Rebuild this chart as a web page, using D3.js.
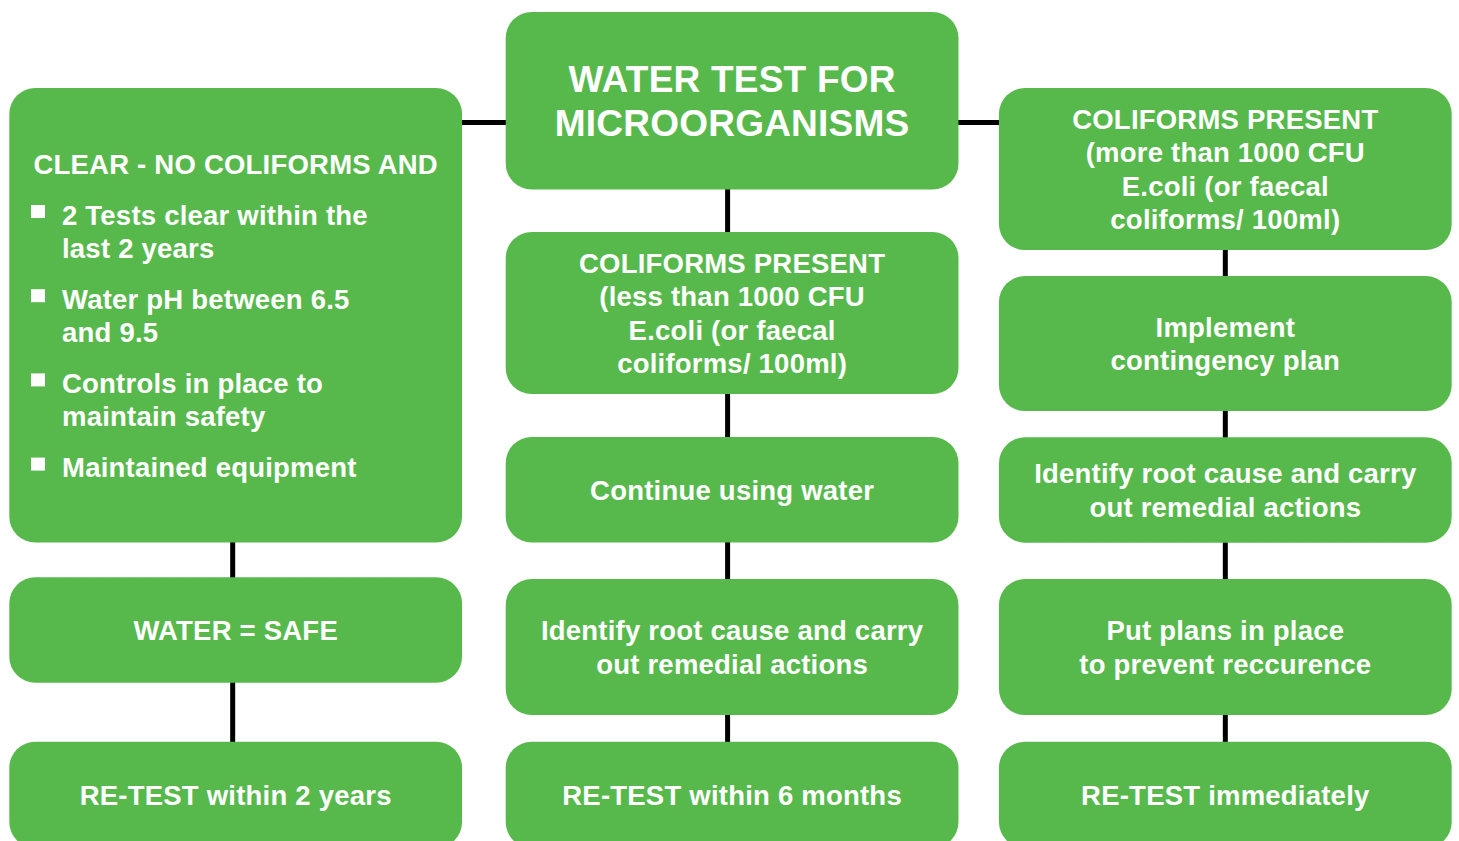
<!DOCTYPE html>
<html>
<head>
<meta charset="utf-8">
<script src="https://cdn.jsdelivr.net/npm/d3@7"></script>
<style>
  body { margin: 0; background: #fff; }
  svg { display: block; }
  text { font-family: "Liberation Sans", Arial, sans-serif; font-weight: bold; fill: #fff; letter-spacing: 0.22px; }
</style>
</head>
<body>
<svg width="1459" height="841"></svg>
<script>
const columns = ["clear", "under1000", "over1000"];
const headline = ["WATER TEST FOR", "MICROORGANISMS"];
const clearHeading = "CLEAR - NO COLIFORMS AND";
const clearBullets = [
    ["2 Tests clear within the", "last 2 years"],
    ["Water pH between 6.5", "and 9.5"],
    ["Controls in place to", "maintain safety"],
    ["Maintained equipment"]
];
const leftSteps = [
    ["WATER = SAFE"],
    ["RE-TEST within 2 years"]
];
const centerSteps = [
    ["COLIFORMS PRESENT", "(less than 1000 CFU", "E.coli (or faecal", "coliforms/ 100ml)"],
    ["Continue using water"],
    ["Identify root cause and carry", "out remedial actions"],
    ["RE-TEST within 6 months"]
];
const rightSteps = [
    ["COLIFORMS PRESENT", "(more than 1000 CFU", "E.coli (or faecal", "coliforms/ 100ml)"],
    ["Implement", "contingency plan"],
    ["Identify root cause and carry", "out remedial actions"],
    ["Put plans in place", "to prevent reccurence"],
    ["RE-TEST immediately"]
];

const svg = d3.select("svg");
const green = "#57b94c";
const fs = 27.5, lh = 33.5;

const band = d3.scaleBand()
    .domain(columns)
    .range([9.3, 1451.7])
    .paddingInner(0.085);
const bw = band.bandwidth();
const colShift = {clear: 0, under1000: 1.6, over1000: 0};
const x = c => band(c) + colShift[c];
const lineShift = {clear: -3, under1000: -4.5, over1000: 0};

// vertical extents of the boxes, top to bottom
let boxes = [];
boxes.push({col: "under1000", y0: 12, y1: 189.5, lines: headline, size: 37, gap: 44.5});
boxes.push({col: "clear", y0: 88, y1: 542.5, lines: null});
[[577.3, 682.7], [741.7, 848]].forEach((r, i) =>
    boxes.push({col: "clear", y0: r[0], y1: r[1], lines: leftSteps[i]}));
[[232, 394], [437, 542.5], [579, 715], [741.7, 848]].forEach((r, i) =>
    boxes.push({col: "under1000", y0: r[0], y1: r[1], lines: centerSteps[i]}));
[[88, 250], [276, 411], [437.3, 542.7], [579, 715], [741.7, 848]].forEach((r, i) =>
    boxes.push({col: "over1000", y0: r[0], y1: r[1], lines: rightSteps[i]}));

// connectors
const links = svg.append("g").attr("stroke", "#000").attr("stroke-width", 5);
columns.forEach(c => {
    const col = boxes.filter(b => b.col === c).sort((a, b) => a.y0 - b.y0);
    const lx = x(c) + bw / 2 + lineShift[c];
    for (let i = 1; i < col.length; i++) {
        links.append("line")
            .attr("x1", lx).attr("x2", lx)
            .attr("y1", col[i - 1].y1 - 2).attr("y2", col[i].y0 + 2);
    }
});
links.append("line")
    .attr("x1", x("clear") + bw - 2).attr("x2", x("under1000") + 2)
    .attr("y1", 122.5).attr("y2", 122.5);
links.append("line")
    .attr("x1", x("under1000") + bw - 2).attr("x2", x("over1000") + 2)
    .attr("y1", 122.5).attr("y2", 122.5);

// boxes
const node = svg.selectAll("g.node")
    .data(boxes)
    .enter()
    .append("g")
    .attr("class", "node");

node.append("rect")
    .attr("x", d => x(d.col))
    .attr("y", d => d.y0)
    .attr("width", bw)
    .attr("height", d => d.y1 - d.y0)
    .attr("rx", 26)
    .attr("fill", green);

node.filter(d => d.lines).each(function(d) {
    const size = d.size || fs, gap = d.gap || lh;
    const cy = (d.y0 + d.y1) / 2;
    const n = d.lines.length;
    d3.select(this).selectAll("text")
        .data(d.lines)
        .enter()
        .append("text")
        .attr("x", x(d.col) + bw / 2)
        .attr("y", (t, i) => cy + (i - (n - 1) / 2) * gap + size * 0.716 / 2)
        .attr("text-anchor", "middle")
        .style("font-size", size + "px")
        .text(t => t);
});

// the bulleted box on the left
const lb = svg.append("g");
lb.append("text")
    .attr("x", x("clear") + bw / 2)
    .attr("y", 173.5)
    .attr("text-anchor", "middle")
    .style("font-size", fs + "px")
    .text(clearHeading);

clearBullets.forEach((b, i) => {
    const base = 224.5 + i * 84.2;
    lb.append("rect")
        .attr("x", 31).attr("y", base - 19.5)
        .attr("width", 14).attr("height", 13)
        .attr("fill", "#fff");
    b.forEach((t, j) => {
        lb.append("text")
            .attr("x", 62)
            .attr("y", base + j * 33.5)
            .style("font-size", fs + "px")
            .text(t);
    });
});
</script>
</body>
</html>
